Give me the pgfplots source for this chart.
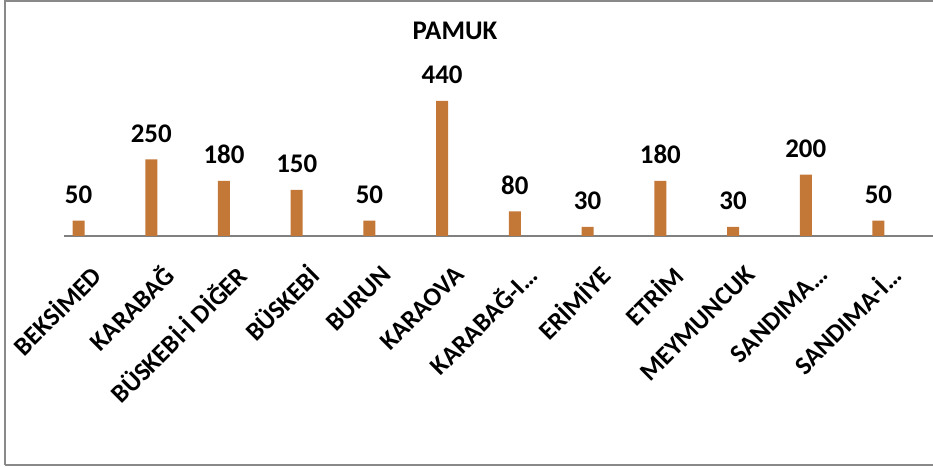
\documentclass[border=0pt]{standalone}
\usepackage{pgfplots}
\pgfplotsset{compat=1.18}
\usepackage{fontspec}
\setmainfont{Carlito}
\definecolor{barc}{RGB}{196,120,56}
\definecolor{framec}{RGB}{137,137,137}
\definecolor{axc}{RGB}{128,128,128}
\begin{document}
\begin{tikzpicture}[x=1bp,y=1bp]
\useasboundingbox (0,0) rectangle (933,467);
\draw[framec, line width=2bp] (5,1.5) -- (5,466) -- (933,466);
\draw[framec, line width=2bp] (5,1.5) -- (933,1.5);
\node[font=\fontsize{27}{30}\selectfont\bfseries] at (455,436) {PAMUK};
\begin{axis}[
  at={(64bp,231bp)}, anchor=south west,
  scale only axis, width=869bp, height=216bp,
  xmin=-0.2, xmax=11.75, ymin=0, ymax=704,
  clip=false,
  hide y axis,
  axis x line*=bottom,
  x axis line style={draw=axc, line width=1.5bp, -},
  xtick={0,...,11},
  xtick style={draw=none},
  xticklabels={BEKSİMED,KARABAĞ,BÜSKEBİ-İ DİĞER,BÜSKEBİ,BURUN,KARAOVA,KARABAĞ-I…,ERİMİYE,ETRİM,MEYMUNCUK,SANDIMA…,SANDIMA-İ…},
  xticklabel style={font=\fontsize{26}{30}\selectfont\bfseries, inner sep=0pt, xshift=17.5bp, yshift=-30bp, rotate=45, anchor=east},
  /pgf/number format/assume math mode=true,
  ybar, bar width=12bp,
  nodes near coords,
  every node near coord/.append style={font=\fontsize{27}{30}\selectfont\bfseries, anchor=base, inner sep=0pt, yshift=17bp, color=black},
]
\addplot[fill=barc, draw=none] coordinates {(0,50) (1,250) (2,180) (3,150) (4,50) (5,440) (6,80) (7,30) (8,180) (9,30) (10,200) (11,50)};
\end{axis}
\end{tikzpicture}
\end{document}
